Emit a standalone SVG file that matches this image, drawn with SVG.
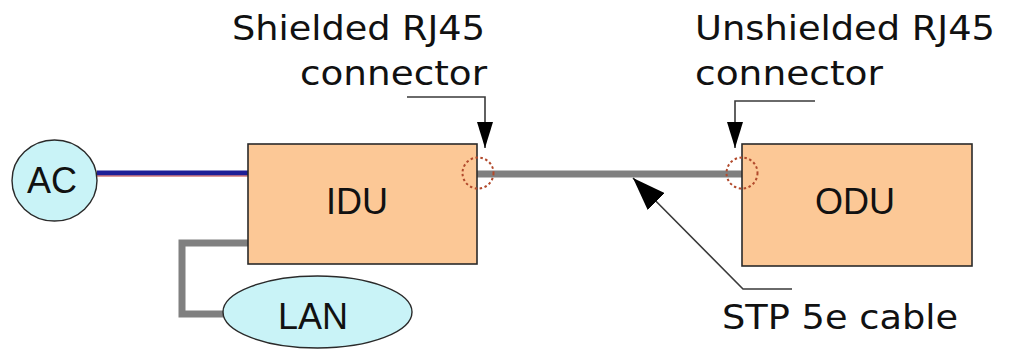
<svg xmlns="http://www.w3.org/2000/svg" width="1022" height="352" viewBox="0 0 1022 352">
<style>
.box{fill:#fcc896;stroke:#2a2a2a;stroke-width:1.6}
.oval{fill:#c9f3f7;stroke:#2a2a2a;stroke-width:1.4}
.node{font-family:"Liberation Sans",Arial,sans-serif;font-size:36px;fill:#111;text-anchor:middle}
.lbl{font-family:"DejaVu Sans",Verdana,sans-serif;font-size:34px;fill:#111}
.cable{fill:none;stroke:#808080;stroke-width:7}
.lead{fill:none;stroke:#3a3a3a;stroke-width:1.6}
.ring{fill:none;stroke:#b24a2c;stroke-width:2;stroke-dasharray:2.5 2.5}
</style>
<defs>
<marker id="arrS" markerUnits="userSpaceOnUse" markerWidth="26" markerHeight="16" refX="26" refY="8" orient="auto">
<path d="M0,0 L26,8 L0,16 z" fill="#000"/>
</marker>
<marker id="arrL" markerUnits="userSpaceOnUse" markerWidth="33" markerHeight="24" refX="33" refY="12" orient="auto">
<path d="M0,0 L33,12 L0,24 z" fill="#000"/>
</marker>
</defs>
<rect width="1022" height="352" fill="#fff"/>
<g id="connectors">
<line x1="97" y1="173" x2="248" y2="173" stroke="#1e1e96" stroke-width="5"/>
<line x1="97" y1="176" x2="248" y2="176" stroke="#c03a3a" stroke-width="1.2"/>
<path class="cable" d="M248,243 H182 V314 H225"/>
<line class="cable" x1="477" y1="174" x2="742" y2="174"/>
<path class="lead" d="M407,97 H485 V148" marker-end="url(#arrS)"/>
<path class="lead" d="M815,101 H735 V148" marker-end="url(#arrS)"/>
<path class="lead" d="M792,289 H743 L633,178" marker-end="url(#arrL)"/>
</g>
<g id="AC">
<ellipse class="oval" cx="54.5" cy="180.5" rx="42.5" ry="40.5"/>
<text class="node" x="52" y="193">AC</text>
</g>
<g id="IDU">
<rect class="box" x="248" y="144" width="229" height="120"/>
<text class="node" x="357" y="214">IDU</text>
</g>
<g id="ODU">
<rect class="box" x="742" y="144" width="230" height="122"/>
<text class="node" x="855" y="214">ODU</text>
</g>
<g id="LAN">
<ellipse class="oval" cx="317.5" cy="312" rx="94.5" ry="36"/>
<text class="node" x="313" y="329">LAN</text>
</g>
<g id="rings">
<circle class="ring" cx="478" cy="173" r="15.5"/>
<circle class="ring" cx="742" cy="173" r="15.5"/>
</g>
<g id="labels">
<text class="lbl" x="232" y="40" textLength="253" lengthAdjust="spacingAndGlyphs">Shielded RJ45</text>
<text class="lbl" x="300" y="85" textLength="187" lengthAdjust="spacingAndGlyphs">connector</text>
<text class="lbl" x="695" y="40" textLength="300" lengthAdjust="spacingAndGlyphs">Unshielded RJ45</text>
<text class="lbl" x="695" y="85" textLength="188" lengthAdjust="spacingAndGlyphs">connector</text>
<text class="lbl" x="722" y="329" textLength="236" lengthAdjust="spacingAndGlyphs">STP 5e cable</text>
</g>
</svg>
